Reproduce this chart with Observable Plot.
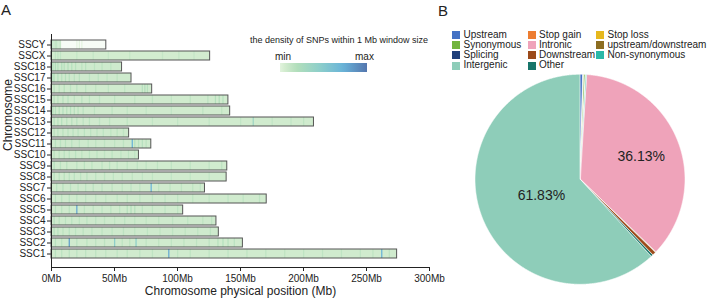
<!DOCTYPE html>
<html>
<head>
<meta charset="utf-8">
<script src="https://cdn.jsdelivr.net/npm/d3@7"></script>
<script src="https://cdn.jsdelivr.net/npm/@observablehq/plot@0.6"></script>
<style>
  body { margin: 0; background: #fff; }
  #fig { position: relative; width: 708px; height: 301px; overflow: hidden;
         font-family: Arial, "Liberation Sans", sans-serif; color: #222; }
  #fig svg { position: absolute; top: 0; }
  .txt { position: absolute; white-space: nowrap; line-height: 1; }
  .sw { position: absolute; width: 8px; height: 8px; }
</style>
</head>
<body>
<div id="fig"></div>
<script>
// ---------- Panel A: SNP density along the pig chromosomes ----------
const chromosomes = ["SSCY","SSCX","SSC18","SSC17","SSC16","SSC15","SSC14","SSC13","SSC12","SSC11",
                     "SSC10","SSC9","SSC8","SSC7","SSC6","SSC5","SSC4","SSC3","SSC2","SSC1"];
const lengthsMb = [43.5, 125.9, 56.0, 63.5, 79.9, 140.4, 141.8, 208.3, 61.6, 79.2,
                   69.4, 139.5, 139.0, 121.8, 170.8, 104.5, 130.9, 132.8, 151.9, 274.3];
// typical SNP count per 1 Mb window on each chromosome
const baseDensity = [30, 175, 190, 190, 185, 185, 185, 185, 190, 190,
                     190, 185, 185, 185, 185, 185, 190, 190, 185, 185];
// windows that stand out: [chromosome, window start (Mb), SNP count]
const denseWindows = [
  ["SSCY",0,250],["SSCY",1,260],["SSCY",2,250],["SSCY",3,240],["SSCY",4,250],["SSCY",5,240],["SSCY",6,230],["SSCY",7,220],["SSCY",20,100],["SSCY",22,110],["SSCY",24,100],
  ["SSCX",3,250],["SSCX",5,260],["SSCX",7,250],["SSCX",20,240],["SSCX",33,240],["SSCX",45,235],["SSCX",62,240],["SSCX",88,235],["SSCX",101,240],["SSCX",113,235],
  ["SSC18",1,310],["SSC18",3,320],["SSC18",5,300],["SSC18",8,310],["SSC18",10,290],["SSC18",13,310],["SSC18",16,300],["SSC18",19,290],["SSC18",24,280],["SSC18",27,290],["SSC18",34,270],["SSC18",40,270],["SSC18",47,260],
  ["SSC17",1,300],["SSC17",2,310],["SSC17",5,300],["SSC17",8,290],["SSC17",11,300],["SSC17",14,290],["SSC17",18,280],["SSC17",22,290],["SSC17",30,270],["SSC17",37,270],["SSC17",44,260],["SSC17",52,270],
  ["SSC16",2,290],["SSC16",6,280],["SSC16",10,290],["SSC16",15,270],["SSC16",20,280],["SSC16",27,270],["SSC16",35,260],["SSC16",45,260],["SSC16",58,260],["SSC16",72,300],["SSC16",74,320],["SSC16",76,300],
  ["SSC15",2,290],["SSC15",5,280],["SSC15",9,290],["SSC15",13,280],["SSC15",18,270],["SSC15",24,280],["SSC15",30,270],["SSC15",38,260],["SSC15",50,260],["SSC15",66,260],["SSC15",80,260],["SSC15",95,260],["SSC15",110,270],["SSC15",124,280],["SSC15",130,310],["SSC15",133,320],["SSC15",136,300],
  ["SSC14",1,310],["SSC14",3,300],["SSC14",6,310],["SSC14",9,300],["SSC14",12,290],["SSC14",15,300],["SSC14",18,290],["SSC14",21,280],["SSC14",25,280],["SSC14",34,260],["SSC14",48,260],["SSC14",60,250],["SSC14",75,250],["SSC14",95,250],["SSC14",120,260],["SSC14",135,260],
  ["SSC13",2,300],["SSC13",5,290],["SSC13",8,300],["SSC13",12,280],["SSC13",16,290],["SSC13",20,280],["SSC13",25,270],["SSC13",30,270],["SSC13",38,260],["SSC13",46,260],["SSC13",60,260],["SSC13",80,250],["SSC13",100,250],["SSC13",125,250],["SSC13",150,250],["SSC13",160,480],["SSC13",175,250],["SSC13",190,250],["SSC13",200,260],
  ["SSC12",2,290],["SSC12",5,280],["SSC12",9,290],["SSC12",13,280],["SSC12",17,280],["SSC12",21,270],["SSC12",26,280],["SSC12",31,270],["SSC12",36,270],["SSC12",41,270],["SSC12",47,260],["SSC12",52,270],["SSC12",57,260],
  ["SSC11",3,290],["SSC11",7,280],["SSC11",11,290],["SSC11",16,280],["SSC11",22,270],["SSC11",29,270],["SSC11",35,260],["SSC11",42,260],["SSC11",50,260],["SSC11",57,270],["SSC11",64,900],["SSC11",66,300],["SSC11",69,290],["SSC11",72,300],["SSC11",75,280],
  ["SSC10",2,290],["SSC10",6,280],["SSC10",10,280],["SSC10",14,270],["SSC10",19,280],["SSC10",24,270],["SSC10",30,270],["SSC10",36,270],["SSC10",42,260],["SSC10",48,270],["SSC10",55,260],["SSC10",61,270],["SSC10",66,260],
  ["SSC9",2,310],["SSC9",7,280],["SSC9",12,280],["SSC9",20,270],["SSC9",26,280],["SSC9",32,270],["SSC9",40,270],["SSC9",46,280],["SSC9",52,270],["SSC9",60,260],["SSC9",68,260],["SSC9",75,260],["SSC9",84,260],["SSC9",95,260],["SSC9",110,260],["SSC9",125,260],["SSC9",135,270],
  ["SSC8",2,300],["SSC8",6,290],["SSC8",10,290],["SSC8",14,280],["SSC8",18,280],["SSC8",23,270],["SSC8",28,280],["SSC8",35,270],["SSC8",42,270],["SSC8",49,260],["SSC8",56,260],["SSC8",64,260],["SSC8",72,250],["SSC8",80,250],["SSC8",95,250],["SSC8",110,250],["SSC8",125,250],
  ["SSC7",4,280],["SSC7",9,290],["SSC7",15,280],["SSC7",21,270],["SSC7",27,270],["SSC7",33,280],["SSC7",40,270],["SSC7",48,270],["SSC7",56,260],["SSC7",63,270],["SSC7",70,260],["SSC7",79,880],["SSC7",85,270],["SSC7",94,260],["SSC7",103,260],["SSC7",112,260],["SSC7",118,260],
  ["SSC6",3,290],["SSC6",8,280],["SSC6",14,280],["SSC6",20,270],["SSC6",27,270],["SSC6",35,270],["SSC6",43,260],["SSC6",52,260],["SSC6",60,270],["SSC6",70,260],["SSC6",80,260],["SSC6",90,260],["SSC6",100,260],["SSC6",112,260],["SSC6",125,260],["SSC6",140,260],["SSC6",152,260],["SSC6",165,270],
  ["SSC5",3,290],["SSC5",8,280],["SSC5",14,280],["SSC5",20,950],["SSC5",26,270],["SSC5",33,270],["SSC5",40,260],["SSC5",47,270],["SSC5",54,270],["SSC5",60,300],["SSC5",63,310],["SSC5",66,300],["SSC5",72,270],["SSC5",80,260],["SSC5",90,260],["SSC5",100,260],
  ["SSC4",2,300],["SSC4",6,290],["SSC4",11,280],["SSC4",16,280],["SSC4",22,270],["SSC4",28,270],["SSC4",35,270],["SSC4",42,260],["SSC4",50,260],["SSC4",58,270],["SSC4",66,260],["SSC4",75,260],["SSC4",85,260],["SSC4",96,260],["SSC4",108,260],["SSC4",120,260],["SSC4",127,270],
  ["SSC3",2,300],["SSC3",5,290],["SSC3",9,280],["SSC3",14,280],["SSC3",19,270],["SSC3",25,280],["SSC3",32,270],["SSC3",40,270],["SSC3",48,260],["SSC3",57,270],["SSC3",66,260],["SSC3",76,260],["SSC3",86,260],["SSC3",96,260],["SSC3",106,260],["SSC3",116,260],["SSC3",126,270],
  ["SSC2",3,290],["SSC2",8,280],["SSC2",14,1000],["SSC2",20,280],["SSC2",28,270],["SSC2",35,270],["SSC2",42,270],["SSC2",50,600],["SSC2",56,270],["SSC2",62,270],["SSC2",67,600],["SSC2",75,260],["SSC2",85,260],["SSC2",95,260],["SSC2",105,260],["SSC2",115,260],["SSC2",125,270],["SSC2",132,290],["SSC2",136,300],["SSC2",140,290],["SSC2",145,280],
  ["SSC1",3,290],["SSC1",8,280],["SSC1",14,280],["SSC1",20,270],["SSC1",27,270],["SSC1",35,270],["SSC1",43,260],["SSC1",52,260],["SSC1",60,260],["SSC1",70,260],["SSC1",80,260],["SSC1",93,950],["SSC1",100,260],["SSC1",110,260],["SSC1",125,260],["SSC1",140,260],["SSC1",155,260],["SSC1",170,260],["SSC1",185,260],["SSC1",200,260],["SSC1",215,260],["SSC1",230,260],["SSC1",245,260],["SSC1",255,260],["SSC1",262,900],["SSC1",268,270]
];
const xTicksMb = [0, 50, 100, 150, 200, 250, 300];
const densityStops = [0, 80, 160, 320, 600, 900, 1200];
const densityColors = ["#ffffff", "#eaf6e6", "#d5edd1", "#b2debb", "#8ecfca", "#69b3d8", "#5476ae"];

// ---------- Panel B: functional annotation of SNPs ----------
const annoCategories = ["Upstream","Splicing","Stop gain","Synonymous","Stop loss","Non-synonymous",
                        "Intronic","upstream/downstream","Downstream","Other","Intergenic"];
const annoPercent = [0.45, 0.08, 0.05, 0.25, 0.05, 0.18, 36.13, 0.10, 0.55, 0.33, 61.83];
const annoColors = ["#4472c4","#1f3f7a","#ed7d31","#72b43e","#e6b81e","#2ab8a8",
                    "#efa3ba","#8c6d21","#9b4a1a","#17756a","#8ecdb9"];
const legendOrder = ["Upstream","Stop gain","Stop loss","Synonymous","Intronic","upstream/downstream",
                     "Splicing","Downstream","Non-synonymous","Intergenic","Other"];
const labelledSlices = ["Intronic","Intergenic"];

const fig = document.getElementById("fig");
const font = 'Arial, "Liberation Sans", sans-serif';

function addText(str, left, top, size, extra = {}) {
  const d = document.createElement("div");
  d.className = "txt";
  d.textContent = str;
  Object.assign(d.style, {left: left + "px", top: top + "px", fontSize: size + "px"}, extra);
  fig.appendChild(d);
  return d;
}

// --- chromosome bars ---
const lengthOf = new Map(chromosomes.map((c, i) => [c, lengthsMb[i]]));
const chromRows = chromosomes.map((c, i) => ({chr: c, length: lengthsMb[i], snps: baseDensity[i]}));
const windows = denseWindows.map(([chr, mb, snps]) => ({chr, start: mb, end: Math.min(mb + 1, lengthOf.get(chr)), snps}));

const panelA = Plot.plot({
  width: 460, height: 301,
  marginLeft: 51, marginRight: 31, marginTop: 34, marginBottom: 34,
  style: {fontFamily: font, fontSize: "10px", color: "#222", background: "transparent"},
  x: {domain: [0, 300], ticks: xTicksMb, tickFormat: d => d + "Mb", tickSize: 4, tickPadding: 3, label: null, line: true},
  y: {domain: chromosomes, range: [34, 263.6], padding: 0.2, tickSize: 4, tickPadding: 2, label: null},
  color: {type: "linear", domain: densityStops, range: densityColors, clamp: true},
  marks: [
    Plot.barX(chromRows, {x1: 0, x2: "length", y: "chr", fill: "snps"}),
    Plot.barX(windows, {x1: "start", x2: "end", y: "chr", fill: "snps"}),
    Plot.barX(chromRows, {x1: 0, x2: "length", y: "chr", fill: "none", stroke: "#555", strokeWidth: 1}),
    Plot.ruleX([0], {stroke: "#222", strokeWidth: 1}),
    Plot.text(["Chromosome physical position (Mb)"], {frameAnchor: "bottom", dy: 27, fontSize: 12, fill: "#222"}),
    Plot.text(["Chromosome"], {frameAnchor: "left", dx: -43, rotate: -90, fontSize: 12, fill: "#222"})
  ]
});
panelA.style.left = "0px";
fig.appendChild(panelA);

// density legend
addText("the density of SNPs within 1 Mb window size", 250, 35.5, 9);
addText("min", 275, 51.5, 10);
addText("max", 355, 51.5, 10);
const ramp = d3.scaleLinear().domain(densityStops).range(densityColors).clamp(true);
const grad = document.createElement("div");
const stops = d3.range(0, 21).map(i => {
  const v = 110 + (1200 - 110) * i / 20;
  return `${ramp(v)} ${i * 5}%`;
});
Object.assign(grad.style, {position: "absolute", left: "280px", top: "63px", width: "87px", height: "9px",
  background: `linear-gradient(to right, ${stops.join(",")})`});
fig.appendChild(grad);

// --- pie ---
const total = d3.sum(annoPercent);
let acc = 0;
const slices = annoCategories.map((c, i) => {
  const a0 = acc / total * 2 * Math.PI;
  acc += annoPercent[i];
  const a1 = acc / total * 2 * Math.PI;
  return {cat: c, pct: annoPercent[i], a0, a1};
});
const arcPoints = slices.flatMap(s => {
  const n = Math.max(2, Math.ceil((s.a1 - s.a0) / 0.004));
  return d3.range(n + 1).map(k => {
    const a = s.a0 + (s.a1 - s.a0) * k / n;
    return {cat: s.cat, x: Math.sin(a), y: Math.cos(a)};
  });
});
const labelRadius = {"Intronic": 0.62, "Intergenic": 0.4};
const pieLabels = slices.filter(s => labelledSlices.includes(s.cat)).map(s => {
  const m = (s.a0 + s.a1) / 2, r = labelRadius[s.cat];
  return {x: r * Math.sin(m), y: r * Math.cos(m), text: s.pct.toFixed(2) + "%"};
});

const panelB = Plot.plot({
  width: 278, height: 301, margin: 0,
  style: {fontFamily: font, background: "transparent"},
  x: {domain: [-1, 1], range: [45, 255], axis: null},
  y: {domain: [-1, 1], range: [284.3, 74.3], axis: null},
  color: {domain: annoCategories, range: annoColors},
  marks: [
    Plot.area(arcPoints, {x1: "x", y1: "y", x2: 0, y2: 0, z: "cat", fill: "cat", stroke: "white", strokeWidth: 0.6}),
    Plot.text(pieLabels, {x: "x", y: "y", text: "text", fontSize: 14, fill: "#222"})
  ]
});
panelB.style.left = "430px";
fig.appendChild(panelB);

// pie legend (three columns, row by row)
const colorOf = new Map(annoCategories.map((c, i) => [c, annoColors[i]]));
const colX = [452, 527.5, 596];
const rowY = [35, 45, 55, 65.5];
legendOrder.forEach((c, i) => {
  const col = i % 3, row = Math.floor(i / 3);
  const sw = document.createElement("div");
  sw.className = "sw";
  Object.assign(sw.style, {left: colX[col] + "px", top: (rowY[row] - 4) + "px", background: colorOf.get(c)});
  fig.appendChild(sw);
  addText(c, colX[col] + 11.5, rowY[row] - 5.5, 10);
});

// panel letters
addText("A", 1, 2, 15);
addText("B", 438, 3, 15);
</script>
</body>
</html>
